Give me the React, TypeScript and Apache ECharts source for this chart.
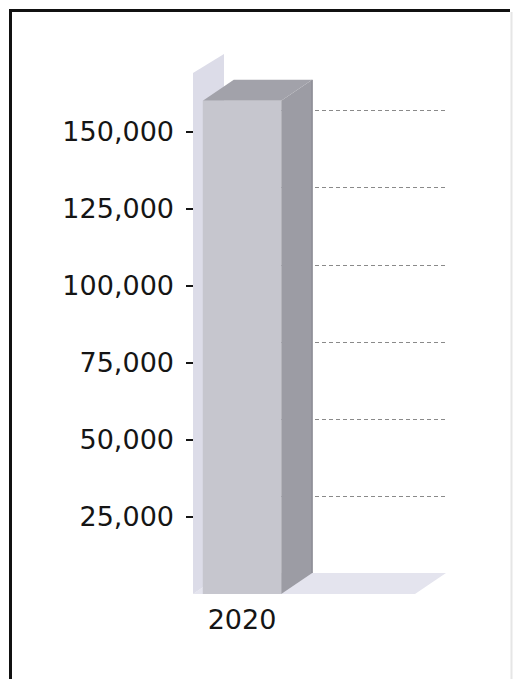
import React, { useEffect, useRef } from "react";
import * as echarts from "echarts";

// ---- data ----
const categories: string[] = ["2020"];
const values: number[] = [160000];
const tickValues: number[] = [25000, 50000, 75000, 100000, 125000, 150000];
const axisMax = 170000;

// ---- style constants ----
const DX = 31;
const DY = -21;
const FLOOR_WIDTH = 222;
const FONT = "DejaVu Sans";

const fmt = (v: number) => v.toLocaleString("en-US");

export default function App() {
  const ref = useRef<HTMLDivElement>(null);
  useEffect(() => {
    if (!ref.current) return;
    const chart = echarts.init(ref.current, undefined, { renderer: "svg" });

    const option: any = {
      animation: false,
      backgroundColor: "#ffffff",
      grid: [
        { left: 193, width: 98, top: 70, bottom: 85 },
        { left: 224, width: 222, top: 70 + DY + (axisMax - 150000) * (524 / axisMax), bottom: 85 - DY + 25000 * (524 / axisMax) },
      ],
      xAxis: [
        {
          type: "category",
          gridIndex: 0,
          data: categories,
          axisLine: { show: false },
          axisTick: { show: false },
          axisLabel: { fontFamily: FONT, fontSize: 27, color: "#151515", margin: 12 },
        },
        {
          type: "category",
          gridIndex: 1,
          data: categories,
          show: false,
        },
      ],
      yAxis: [
        {
          type: "value",
          gridIndex: 0,
          min: 0,
          max: axisMax,
          axisLine: { show: false },
          splitLine: { show: false },
          axisTick: {
            show: true,
            length: 7,
            customValues: tickValues,
            lineStyle: { color: "#151515", width: 2 },
          },
          axisLabel: {
            customValues: tickValues,
            fontFamily: FONT,
            fontSize: 27,
            color: "#151515",
            margin: 19,
            formatter: (v: number) => fmt(v),
          },
        },
        {
          type: "value",
          gridIndex: 1,
          min: 25000,
          max: 150000,
          interval: 25000,
          axisLine: { show: false },
          axisTick: { show: false },
          axisLabel: { show: false },
          splitLine: {
            show: true,
            lineStyle: { color: "#8a8a8a", width: 1, type: [4, 3] },
          },
        },
      ],
      series: [
        {
          type: "custom",
          xAxisIndex: 0,
          yAxisIndex: 0,
          data: values.map((v, i) => [i, v]),
          z: 2,
          renderItem: (params: any, api: any) => {
            const cs = params.coordSys;
            const top = api.coord([api.value(0), api.value(1)]);
            const base = api.coord([api.value(0), 0]);
            const bw = api.size([1, 0])[0] * 0.8;
            const x0 = top[0] - bw / 2;
            const x1 = top[0] + bw / 2;
            const yT = top[1];
            const yB = base[1];
            const L = cs.x;
            const T = cs.y;
            const B = cs.y + cs.height;
            return {
              type: "group",
              children: [
                {
                  type: "polygon",
                  shape: {
                    points: [
                      [L, B],
                      [L + FLOOR_WIDTH, B],
                      [L + FLOOR_WIDTH + DX, B + DY],
                      [L + DX, B + DY],
                    ],
                  },
                  style: { fill: "#e4e4ee" },
                },
                {
                  type: "polygon",
                  shape: {
                    points: [
                      [L, B],
                      [L, T + 3],
                      [L + DX, T + DY + 5],
                      [L + DX, B + DY],
                    ],
                  },
                  style: { fill: "#dcdce8" },
                },
                {
                  type: "polygon",
                  shape: {
                    points: [
                      [x1, yT],
                      [x1 + DX, yT + DY],
                      [x1 + DX, yB + DY],
                      [x1, yB],
                    ],
                  },
                  style: { fill: "#9c9ca4" },
                },
                {
                  type: "polygon",
                  shape: {
                    points: [
                      [x0, yT],
                      [x0 + DX, yT + DY],
                      [x1 + DX, yT + DY],
                      [x1, yT],
                    ],
                  },
                  style: { fill: "#a2a2aa" },
                },
                {
                  type: "rect",
                  shape: { x: x0, y: yT, width: bw, height: yB - yT },
                  style: { fill: "#c6c6ce" },
                },
                {
                  type: "line",
                  shape: { x1: x1 + DX, y1: yT + DY, x2: x1 + DX, y2: yB + DY },
                  style: { stroke: "#7c7c84", lineWidth: 1 },
                },
              ],
            };
          },
        },
      ],
      graphic: [
        { type: "line", shape: { x1: 10.5, y1: 9, x2: 10.5, y2: 679 }, style: { stroke: "#111", lineWidth: 3 } },
        { type: "line", shape: { x1: 9, y1: 10.5, x2: 510, y2: 10.5 }, style: { stroke: "#111", lineWidth: 3 } },
        { type: "line", shape: { x1: 511.5, y1: 12, x2: 511.5, y2: 679 }, style: { stroke: "#e6e6e6", lineWidth: 2 } },
      ],
    };

    chart.setOption(option);
    return () => chart.dispose();
  }, []);

  return (
    <div
      ref={ref}
      style={{ position: "fixed", left: 0, top: 0, width: 514, height: 679 }}
    />
  );
}
